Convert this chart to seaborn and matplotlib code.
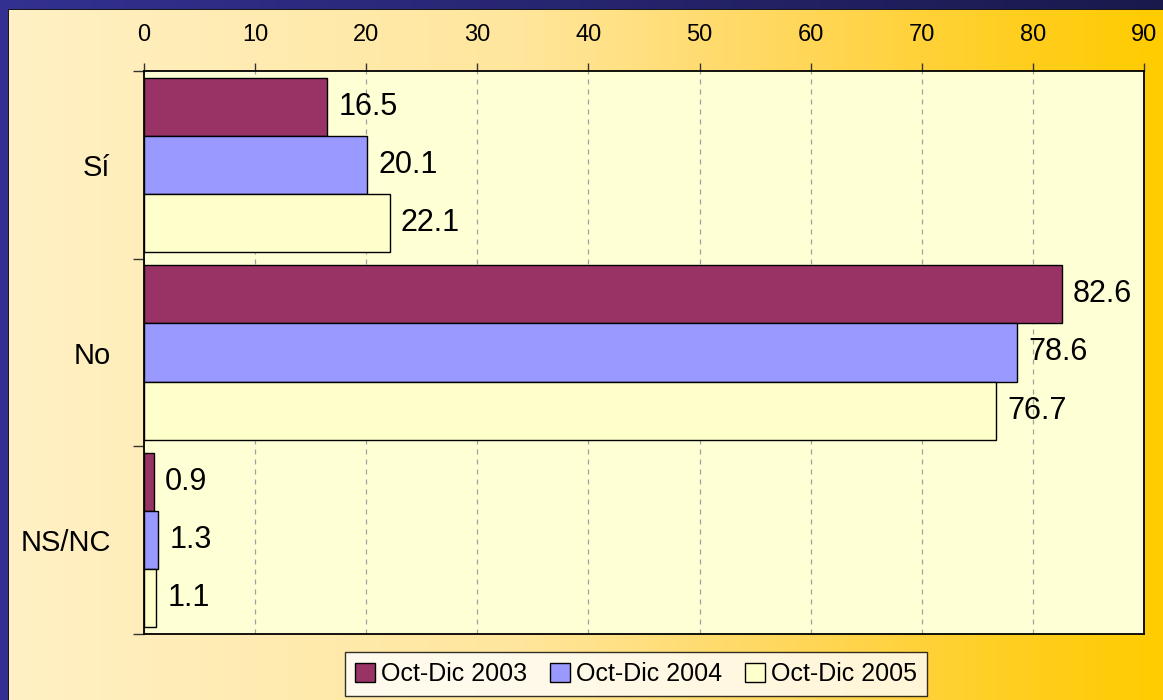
import numpy as np
import pandas as pd
import matplotlib
matplotlib.use("Agg")
import matplotlib.pyplot as plt
import matplotlib.patches as mpatches
from matplotlib.ticker import FixedLocator
import seaborn as sns

# datos
categorias = ["Sí", "No", "NS/NC"]
periodos = ["Oct-Dic 2003", "Oct-Dic 2004", "Oct-Dic 2005"]
v2003 = [16.5, 82.6, 0.9]
v2004 = [20.1, 78.6, 1.3]
v2005 = [22.1, 76.7, 1.1]
xticks = [0, 10, 20, 30, 40, 50, 60, 70, 80, 90]

colores = ["#993366", "#9999FF", "#FFFFCC"]

df = pd.DataFrame({
    "respuesta": categorias * 3,
    "periodo": [p for p in periodos for _ in categorias],
    "valor": v2003 + v2004 + v2005,
})

sns.set_theme(style="white")
plt.rcParams["font.family"] = ["Liberation Sans", "DejaVu Sans"]
plt.rcParams["text.color"] = "black"
plt.rcParams["xtick.color"] = "black"
plt.rcParams["ytick.color"] = "black"

W, H = 1163, 700
fig = plt.figure(figsize=(W / 100, H / 100), dpi=100)

# fondo degradado con borde azul
bg = fig.add_axes([0, 0, 1, 1], zorder=0)
stops_x = [0.0, 0.45, 0.7, 0.88, 1.0]
stops_c = np.array([[255, 241, 198], [255, 230, 156], [255, 214, 86],
                    [255, 206, 30], [255, 204, 0]]) / 255.0
xs = np.linspace(0, 1, W)
row = np.stack([np.interp(xs, stops_x, stops_c[:, i]) for i in range(3)], axis=1)
img = np.tile(row[None, :, :], (H, 1, 1))
# borde superior
top = np.linspace(0, 1, W)
borde_top = np.stack([np.interp(top, [0, 1], [0.20, 0.10]),
                      np.interp(top, [0, 1], [0.19, 0.10]),
                      np.interp(top, [0, 1], [0.57, 0.30])], axis=1)
img[:9, :, :] = borde_top[None, :, :]
img[:, :8, :] = [0.20, 0.19, 0.57]
img[9, 8:, :] = 0.1
img[9:, 8, :] = 0.1
bg.imshow(img, aspect="auto", extent=[0, 1, 0, 1])
bg.axis("off")

ax = fig.add_axes([144 / W, 1 - 634 / H, 1000 / W, (634 - 71) / H], zorder=1)
ax.set_facecolor("#FFFFD6")

sns.barplot(data=df, y="respuesta", x="valor", hue="periodo", order=categorias,
            hue_order=periodos, palette=colores, saturation=1, edgecolor="black",
            linewidth=1, width=0.93, orient="h", legend=False, ax=ax, zorder=3)

for cont in ax.containers:
    ax.bar_label(cont, fmt="%.1f", padding=8, fontsize=22, color="black")

ax.set_xlim(0, 90)
ax.set_ylim(2.5, -0.5)
ax.xaxis.set_ticks_position("top")
ax.set_xticks(xticks)
ax.tick_params(axis="x", which="major", direction="out", length=6, width=1,
               color="#333333", labelsize=17, pad=12, top=True, bottom=False,
               labelcolor="black")
ax.yaxis.set_minor_locator(FixedLocator([-0.5, 0.5, 1.5, 2.5]))
ax.tick_params(axis="y", which="major", length=0, labelsize=21, pad=24,
               labelcolor="black")
ax.tick_params(axis="y", which="minor", direction="out", length=8, width=1,
               color="#333333", left=True)
ax.grid(axis="x", color="#A0A0A0", linestyle=(0, (4, 4)), linewidth=0.9, zorder=0)
ax.set_axisbelow(True)
ax.set_xlabel("")
ax.set_ylabel("")
for s in ax.spines.values():
    s.set_visible(True)
    s.set_color("black")
    s.set_linewidth(1.3)

handles = [mpatches.Patch(facecolor=c, edgecolor="black", linewidth=1, label=p)
           for c, p in zip(colores, periodos)]
leg = fig.legend(handles=handles, loc="center", bbox_to_anchor=(636 / W, 1 - 674 / H),
                 ncol=3, fontsize=18, frameon=True, fancybox=False,
                 handlelength=0.8, handleheight=0.8, handletextpad=0.25,
                 columnspacing=0.9, borderpad=0.4)
leg.get_frame().set_edgecolor("black")
leg.get_frame().set_facecolor("white")
leg.get_frame().set_linewidth(1)

fig.savefig("out.png", dpi=100)
